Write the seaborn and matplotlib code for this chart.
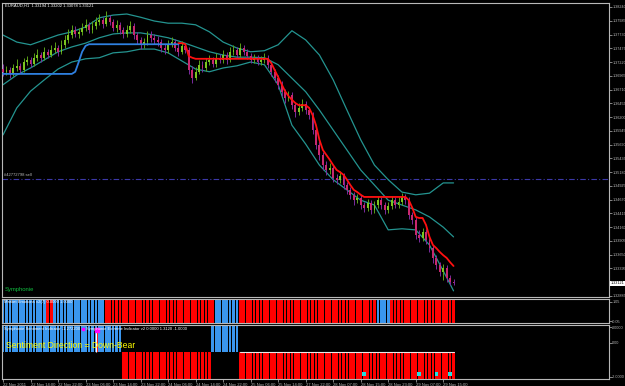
import numpy as np
import pandas as pd
import seaborn as sns
import matplotlib
matplotlib.use("Agg")
import matplotlib.pyplot as plt
import matplotlib.transforms as mtransforms

# EURAUD H1 candles (bar 0 = 22 Nov 06:00)
opens = [1.3710, 1.3704, 1.3707, 1.3700, 1.3711, 1.3715, 1.3707, 1.3722, 1.3726, 1.3718,
         1.3730, 1.3735, 1.3730, 1.3741, 1.3735, 1.3744, 1.3748, 1.3741, 1.3754, 1.3763,
         1.3772, 1.3781, 1.3774, 1.3778, 1.3785, 1.3791, 1.3781, 1.3789, 1.3796, 1.3800,
         1.3793, 1.3804, 1.3796, 1.3785, 1.3791, 1.3781, 1.3774, 1.3781, 1.3789, 1.3772,
         1.3763, 1.3754, 1.3759, 1.3772, 1.3767, 1.3763, 1.3759, 1.3748, 1.3744, 1.3754,
         1.3759, 1.3748, 1.3741, 1.3752, 1.3744, 1.3707, 1.3693, 1.3704, 1.3717, 1.3711,
         1.3722, 1.3726, 1.3718, 1.3730, 1.3726, 1.3735, 1.3726, 1.3741, 1.3744, 1.3735,
         1.3748, 1.3741, 1.3733, 1.3726, 1.3730, 1.3722, 1.3726, 1.3730, 1.3717, 1.3704,
         1.3693, 1.3680, 1.3667, 1.3655, 1.3661, 1.3642, 1.3629, 1.3637, 1.3644, 1.3633,
         1.3624, 1.3596, 1.3568, 1.3550, 1.3531, 1.3522, 1.3526, 1.3507, 1.3504, 1.3511,
         1.3494, 1.3485, 1.3476, 1.3466, 1.3470, 1.3457, 1.3452, 1.3461, 1.3448, 1.3457,
         1.3466, 1.3457, 1.3448, 1.3455, 1.3466, 1.3457, 1.3463, 1.3472, 1.3466, 1.3439,
         1.3429, 1.3402, 1.3396, 1.3407, 1.3392, 1.3377, 1.3358, 1.3346, 1.3333, 1.3340,
         1.3322, 1.3315]
highs = [1.3718, 1.3714, 1.3712, 1.3719, 1.3728, 1.3720, 1.3729, 1.3734, 1.3731, 1.3738,
         1.3746, 1.3741, 1.3750, 1.3747, 1.3753, 1.3759, 1.3754, 1.3763, 1.3772, 1.3783,
         1.3790, 1.3788, 1.3786, 1.3795, 1.3801, 1.3797, 1.3798, 1.3805, 1.3811, 1.3806,
         1.3816, 1.3810, 1.3801, 1.3800, 1.3797, 1.3787, 1.3790, 1.3798, 1.3794, 1.3778,
         1.3769, 1.3767, 1.3780, 1.3779, 1.3774, 1.3770, 1.3765, 1.3755, 1.3762, 1.3768,
         1.3764, 1.3755, 1.3761, 1.3758, 1.3750, 1.3714, 1.3712, 1.3725, 1.3723, 1.3730,
         1.3735, 1.3731, 1.3738, 1.3737, 1.3744, 1.3741, 1.3750, 1.3753, 1.3749, 1.3757,
         1.3754, 1.3746, 1.3739, 1.3737, 1.3735, 1.3733, 1.3738, 1.3735, 1.3722, 1.3709,
         1.3698, 1.3686, 1.3672, 1.3669, 1.3666, 1.3648, 1.3646, 1.3653, 1.3650, 1.3639,
         1.3630, 1.3602, 1.3575, 1.3556, 1.3538, 1.3535, 1.3532, 1.3514, 1.3520, 1.3517,
         1.3500, 1.3491, 1.3482, 1.3478, 1.3475, 1.3463, 1.3469, 1.3466, 1.3465, 1.3474,
         1.3471, 1.3463, 1.3463, 1.3474, 1.3472, 1.3471, 1.3480, 1.3477, 1.3471, 1.3445,
         1.3434, 1.3410, 1.3415, 1.3412, 1.3398, 1.3383, 1.3364, 1.3352, 1.3348, 1.3346,
         1.3328, 1.3320]
lows = [1.3697, 1.3698, 1.3693, 1.3696, 1.3706, 1.3701, 1.3703, 1.3716, 1.3712, 1.3714,
        1.3724, 1.3722, 1.3726, 1.3729, 1.3731, 1.3738, 1.3734, 1.3737, 1.3748, 1.3757,
        1.3766, 1.3768, 1.3767, 1.3772, 1.3779, 1.3775, 1.3776, 1.3783, 1.3790, 1.3786,
        1.3788, 1.3790, 1.3779, 1.3778, 1.3774, 1.3767, 1.3769, 1.3776, 1.3765, 1.3755,
        1.3746, 1.3748, 1.3754, 1.3760, 1.3756, 1.3752, 1.3741, 1.3737, 1.3739, 1.3749,
        1.3742, 1.3734, 1.3736, 1.3738, 1.3700, 1.3684, 1.3688, 1.3699, 1.3704, 1.3706,
        1.3716, 1.3712, 1.3713, 1.3720, 1.3721, 1.3719, 1.3722, 1.3735, 1.3729, 1.3731,
        1.3735, 1.3727, 1.3720, 1.3720, 1.3716, 1.3716, 1.3721, 1.3711, 1.3697, 1.3685,
        1.3672, 1.3659, 1.3647, 1.3649, 1.3635, 1.3620, 1.3623, 1.3631, 1.3626, 1.3616,
        1.3588, 1.3560, 1.3541, 1.3522, 1.3513, 1.3515, 1.3499, 1.3496, 1.3498, 1.3486,
        1.3477, 1.3468, 1.3458, 1.3460, 1.3449, 1.3444, 1.3446, 1.3440, 1.3443, 1.3451,
        1.3450, 1.3441, 1.3442, 1.3450, 1.3451, 1.3452, 1.3458, 1.3459, 1.3432, 1.3421,
        1.3395, 1.3388, 1.3390, 1.3384, 1.3370, 1.3350, 1.3338, 1.3325, 1.3318, 1.3315,
        1.3308, 1.3308]
closes = [1.3704, 1.3707, 1.3700, 1.3711, 1.3715, 1.3707, 1.3722, 1.3726, 1.3718, 1.3730,
          1.3735, 1.3730, 1.3741, 1.3735, 1.3744, 1.3748, 1.3741, 1.3754, 1.3763, 1.3772,
          1.3781, 1.3774, 1.3778, 1.3785, 1.3791, 1.3781, 1.3789, 1.3796, 1.3800, 1.3793,
          1.3804, 1.3796, 1.3785, 1.3791, 1.3781, 1.3774, 1.3781, 1.3789, 1.3772, 1.3763,
          1.3754, 1.3759, 1.3772, 1.3767, 1.3763, 1.3759, 1.3748, 1.3744, 1.3754, 1.3759,
          1.3748, 1.3741, 1.3752, 1.3744, 1.3707, 1.3693, 1.3704, 1.3717, 1.3711, 1.3722,
          1.3726, 1.3718, 1.3730, 1.3726, 1.3735, 1.3726, 1.3741, 1.3744, 1.3735, 1.3748,
          1.3741, 1.3733, 1.3726, 1.3730, 1.3722, 1.3726, 1.3730, 1.3717, 1.3704, 1.3693,
          1.3680, 1.3667, 1.3655, 1.3661, 1.3642, 1.3629, 1.3637, 1.3644, 1.3633, 1.3624,
          1.3596, 1.3568, 1.3550, 1.3531, 1.3522, 1.3526, 1.3507, 1.3504, 1.3511, 1.3494,
          1.3485, 1.3476, 1.3466, 1.3470, 1.3457, 1.3452, 1.3461, 1.3448, 1.3457, 1.3466,
          1.3457, 1.3448, 1.3455, 1.3466, 1.3457, 1.3463, 1.3472, 1.3466, 1.3439, 1.3429,
          1.3402, 1.3396, 1.3407, 1.3392, 1.3377, 1.3358, 1.3346, 1.3333, 1.3340, 1.3322,
          1.3315, 1.3312]

# bollinger bands, read every 4th bar
band_bars = [0, 4, 8, 12, 16, 20, 24, 28, 32, 36, 40, 44, 48, 52, 56, 60, 64,
             68, 72, 76, 80, 84, 88, 92, 96, 100, 104, 108, 112, 116, 120, 124, 128, 131]
bb_upper = [1.3772, 1.3759, 1.3754, 1.3763, 1.3772, 1.3778, 1.3787, 1.3804, 1.3809, 1.3811,
            1.3805, 1.3798, 1.3794, 1.3794, 1.3791, 1.3778, 1.3759, 1.3748, 1.3741, 1.3743,
            1.3754, 1.3780, 1.3763, 1.3735, 1.3689, 1.3633, 1.3578, 1.3531, 1.3504, 1.3481,
            1.3476, 1.3479, 1.3498, 1.3498]
bb_middle = [1.3680, 1.3698, 1.3711, 1.3726, 1.3741, 1.3750, 1.3757, 1.3767, 1.3774, 1.3776,
             1.3776, 1.3772, 1.3767, 1.3759, 1.3750, 1.3741, 1.3735, 1.3731, 1.3731, 1.3730,
             1.3717, 1.3692, 1.3667, 1.3633, 1.3596, 1.3559, 1.3522, 1.3494, 1.3466, 1.3457,
             1.3448, 1.3435, 1.3416, 1.3398]
bb_lower = [1.3587, 1.3637, 1.3668, 1.3689, 1.3709, 1.3722, 1.3728, 1.3730, 1.3739, 1.3741,
            1.3746, 1.3746, 1.3739, 1.3724, 1.3709, 1.3704, 1.3711, 1.3715, 1.3722, 1.3717,
            1.3680, 1.3605, 1.3570, 1.3531, 1.3504, 1.3485, 1.3466, 1.3457, 1.3411, 1.3413,
            1.3411, 1.3383, 1.3335, 1.3298]

# trailing stop line: blue (up) for bars 0-51, red (down) for bars 51-131
trail_up = [1.3700] * 21 + [1.3704, 1.3722, 1.3741, 1.3752] + [1.3755] * 27
trail_dn = ([1.3757, 1.3757, 1.3755, 1.3733, 1.3730] + [1.3728] * 22 +
            [1.3720, 1.3707, 1.3694, 1.3681, 1.3668, 1.3659, 1.3652, 1.3646, 1.3642,
             1.3642, 1.3642, 1.3637, 1.3624, 1.3605, 1.3578, 1.3559, 1.3550, 1.3541,
             1.3531, 1.3522, 1.3518, 1.3513, 1.3504, 1.3494, 1.3485, 1.3481, 1.3476] +
            [1.3472] * 13 +
            [1.3466, 1.3452, 1.3435, 1.3433, 1.3433, 1.3420, 1.3398, 1.3383, 1.3377,
             1.3370, 1.3364, 1.3359, 1.3351, 1.3344])

# indicator panels: +1 blue, -1 red
emotions = [1] * 13 + [-1] * 2 + [1] * 15 + [-1] * 32 + [1] * 7 + [-1] * 40 + [1] * 4 + [-1] * 19
sentiment = [1] * 35 + [-1] * 26 + [1] * 8 + [-1] * 63
extreme_bar = 27
extreme_val = 0.82
dot_bars = [105, 121, 126, 130]
dot_val = -0.82

time_labels = ["22 Nov 2011", "22 Nov 14:00", "22 Nov 22:00", "23 Nov 06:00", "23 Nov 14:00",
               "23 Nov 22:00", "24 Nov 06:00", "24 Nov 14:00", "24 Nov 22:00", "25 Nov 06:00",
               "25 Nov 14:00", "27 Nov 22:00", "28 Nov 07:00", "28 Nov 15:00", "28 Nov 23:00",
               "29 Nov 07:00", "29 Nov 15:00"]
price_ticks = [1.38240, 1.37985, 1.37730, 1.37475, 1.37220, 1.36965, 1.36710, 1.36455,
               1.36200, 1.35945, 1.35690, 1.35435, 1.35180, 1.34925, 1.34670, 1.34415,
               1.34160, 1.33905, 1.33650, 1.33395, 1.32885]
sell_price = 1.35053
last_price = 1.33121

df = pd.DataFrame({"bar": np.arange(len(closes)), "open": opens, "high": highs,
                   "low": lows, "close": closes})
bands = pd.DataFrame({"bar": band_bars, "upper": bb_upper, "middle": bb_middle, "lower": bb_lower})

sns.set_style("dark", {"axes.facecolor": "black", "figure.facecolor": "black"})
plt.rcParams["font.family"] = ["Liberation Sans", "DejaVu Sans"]

W, H = 625, 386
fig = plt.figure(figsize=(6.25, 3.86), dpi=100, facecolor="black")

def box(top, bottom):
    return [2 / W, 1 - bottom / H, 607 / W, (bottom - top) / H]

ax = fig.add_axes(box(3, 297))
ax2 = fig.add_axes(box(299, 323))
ax3 = fig.add_axes(box(325, 379))

xlim = (-0.3, 176.2)
grey = "#b8b8b8"
small = 3.0
axis_fs = 2.7
for a in (ax, ax2, ax3):
    a.set_facecolor("black")
    a.set_xlim(*xlim)
    for s in a.spines.values():
        s.set_color(grey)
        s.set_linewidth(0.8)
    a.yaxis.tick_right()
    a.tick_params(axis="y", colors=grey, labelsize=axis_fs, length=1.8, width=0.5, pad=0.5)
    a.tick_params(axis="x", bottom=False, labelbottom=False)
    a.grid(False)

# main price panel
ax.set_ylim(1.32866, 1.38314)
ax.set_yticks(price_ticks)
ax.set_yticklabels([f"{p:.5f}" for p in price_ticks])

up = df["close"] >= df["open"]
body_col = np.where(up, "#7cc520", "#c8286e")
wick_col = np.where(up, "#5aa018", "#7b2c9e")
ax.vlines(df["bar"], df["low"], df["high"], colors=wick_col, lw=0.7, zorder=3)
body_lo = np.minimum(df["open"], df["close"])
body_h = np.maximum((df["close"] - df["open"]).abs(), 0.00006)
ax.bar(df["bar"], body_h, bottom=body_lo, width=0.55, color=body_col, lw=0, zorder=4)

for col in ("upper", "middle", "lower"):
    sns.lineplot(data=bands, x="bar", y=col, ax=ax, color="#249490", lw=0.9,
                 estimator=None, zorder=2)
sns.lineplot(x=np.arange(0, 52), y=trail_up, ax=ax, color="#2f80e0", lw=1.3,
             estimator=None, zorder=5)
sns.lineplot(x=np.arange(51, 132), y=trail_dn, ax=ax, color="#ff1010", lw=1.3,
             estimator=None, zorder=5)
ax.set_xlabel("")
ax.set_ylabel("")

ax.axhline(sell_price, color="#3c38a8", lw=0.8, ls=(0, (5, 2, 1, 2)), zorder=1)
ax.text(0.003, sell_price + 0.0003, "#42772798 sell", transform=ax.get_yaxis_transform(),
        color=grey, fontsize=small, va="bottom", ha="left")

tr = mtransforms.blended_transform_factory(ax.transAxes, ax.transData)
ax.text(1.003, last_price, f"{last_price:.5f}", transform=tr, fontsize=axis_fs, color="black",
        va="center", ha="left",
        bbox=dict(boxstyle="square,pad=0.12", fc="white", ec="none"))

fig.text(5 / W, 1 - 6 / H, "EURAUD,H1  1.33194 1.33202 1.33078 1.33121", color="white",
         fontsize=small, va="center", ha="left")
fig.text(5 / W, 1 - 289 / H, "Symphonie", color="#10c040", fontsize=4.2, va="center", ha="left")

# market emotions panel
bars = np.arange(len(emotions))
ax2.set_ylim(0, 1)
ax2.bar(bars, [1] * len(emotions), width=0.8, lw=0,
        color=["#3a96ee" if v > 0 else "#ff0000" for v in emotions])
ax2.set_yticks([0.88, 0.08])
ax2.set_yticklabels(["1.05", "-0.05"])
ax2.text(0.004, 0.86, "Market Emotions v2(7) 0.0000 1.0000", transform=ax2.transAxes,
         color="white", fontsize=small, va="center", ha="left", zorder=6)

# sentiment panel
ax3.set_ylim(-1, 1)
ax3.bar(bars, sentiment, width=0.8, lw=0,
        color=["#3a96ee" if v > 0 else "#ff0000" for v in sentiment])
ax3.plot(np.arange(69, 132), [0] * 63, color="#e8e8e8", lw=0.8)
ax3.bar([extreme_bar + 0.4], [extreme_val], width=0.5, color="#ff0000", lw=0, zorder=4)
ax3.vlines([extreme_bar], 0, extreme_val, colors="white", lw=0.9, zorder=5)
ax3.scatter([extreme_bar + 0.4], [extreme_val], s=5, marker="s", color="#ff00ff", zorder=6)
sns.scatterplot(x=dot_bars, y=[dot_val] * len(dot_bars), ax=ax3, s=6, marker="s",
                color="#20e0e0", edgecolor="none", zorder=6)
ax3.set_yticks([0.92, 0.35, -0.92])
ax3.set_yticklabels(["2.0000", "0.00", "-2.0000"])

t1 = ax3.text(0.004, 0.93, "Symphonie Sentiment Indicator -1.272200", transform=ax3.transAxes,
              color="white", fontsize=small, va="center", ha="left", zorder=7)
ax3.text(0.006, 0.62, "Sentiment Direction = Down-Bear", transform=ax3.transAxes,
         color="#ffff00", fontsize=6.2, va="center", ha="left", zorder=7)

# time axis
tick_bars = list(range(0, 8 * len(time_labels), 8))
ax3.set_xticks(tick_bars)
ax3.set_xticklabels(time_labels)
ax3.tick_params(axis="x", bottom=True, labelbottom=True, colors=grey, labelsize=small,
                length=2, width=0.5, pad=1)
for lab in ax3.get_xticklabels():
    lab.set_horizontalalignment("left")

# place the second half of the sentiment header right after the first one
fig.canvas.draw()
bb = t1.get_window_extent()
inv = ax3.transAxes.inverted()
x_end = inv.transform((bb.x1, bb.y0))[0]
ax3.scatter([x_end + 0.004], [0.93], transform=ax3.transAxes, s=2.5, marker="s",
            color="#ff00ff", zorder=8, clip_on=False)
ax3.text(x_end + 0.009, 0.93, "Symphonie Extreme Indicator v2 0.0000 1.3120 -1.0000",
         transform=ax3.transAxes, color="white", fontsize=small, va="center", ha="left", zorder=7)

fig.savefig("out.png", dpi=100, facecolor="black")
